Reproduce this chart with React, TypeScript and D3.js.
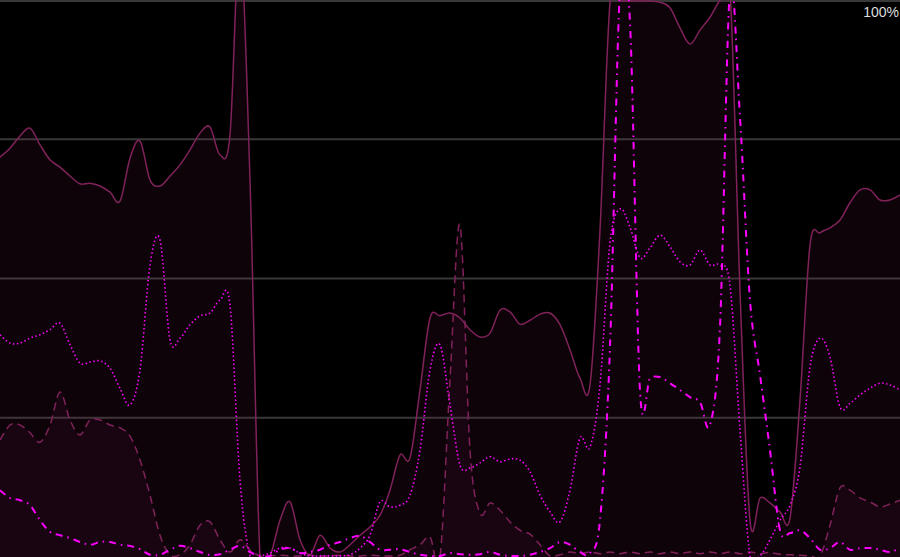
import React, { useEffect, useRef } from "react";
import * as d3 from "d3";

// one sample every 10px of the 900px wide plot, values in percent
const seriesA = [
  71.8, 73.4, 75.6, 77.0, 74.0, 71.3, 70.0, 68.4, 67.0, 67.1,
  66.6, 65.5, 63.9, 71.6, 74.7, 67.7, 66.6, 68.4, 70.4, 73.1,
  76.1, 77.2, 72.2, 75.8, 110.8, 67.7, 0, 0.2, 6.6, 9.9,
  3.1, 0.4, 3.9, 1.6, 0.9, 2.2, 3.9, 5.4, 7.5, 12.0,
  18.3, 17.8, 30.0, 42.9, 43.3, 43.8, 42.9, 40.8, 39.5, 40.2,
  44.3, 44.0, 41.8, 42.5, 43.6, 43.8, 41.7, 37.2, 32.1, 30.9,
  58.7, 99.5, 99.8, 99.8, 99.8, 99.8, 99.6, 98.6, 95.0, 92.1,
  94.6, 96.9, 100, 101.8, 47.9, 6.6, 10.6, 9.7, 8.1, 7.0,
  28.2, 56.0, 58.2, 59.1, 60.5, 63.6, 65.9, 65.9, 64.1, 64.1,
  65.0,
];

const seriesB = [
  21.0, 23.7, 23.7, 22.3, 20.6, 23.7, 29.6, 24.6, 21.9, 24.6,
  24.6, 23.7, 23.2, 21.7, 17.4, 11.1, 3.9, 0.4, 0.4, 2.2,
  5.7, 6.3, 3.1, 0.9, 3.1, 1.3, 0.2, 0.2, 0.3, 0.2,
  0.2, 0.3, 0.2, 0.2, 0.3, 0.2, 0.2, 0.3, 0.2, 0.2,
  0.3, 1.3, 2.2, 3.6, 0, 31.8, 59.6, 19.2, 7.9, 9.7,
  8.4, 6.3, 4.8, 4.1, 2.2, 0.2, 0.4, 0.9, 0.6, 0.9,
  0.6, 0.9, 0.6, 0.9, 0.6, 0.9, 0.6, 0.9, 0.6, 0.9,
  0.6, 0.9, 0.6, 0.9, 0.6, 0.9, 0.6, 0.8, 0.5, 0.4,
  0.3, 0.2, 0.2, 5.7, 12.4, 12.0, 10.6, 9.9, 9.0, 9.5,
  10.2,
];

const seriesC = [
  39.9, 38.4, 38.4, 39.3, 39.9, 40.8, 42.0, 38.1, 34.8, 35.0,
  35.2, 33.9, 30.3, 27.3, 33.6, 52.4, 56.9, 39.0, 39.3, 41.7,
  43.3, 43.8, 46.1, 45.2, 13.8, 0.2, 0.2, 0.7, 1.6, 1.6,
  0.7, 0.2, 0.2, 0.2, 0.2, 0.4, 1.6, 3.9, 9.9, 9.0,
  9.3, 11.1, 19.2, 33.6, 38.1, 27.3, 16.5, 16.0, 16.9, 18.0,
  17.1, 17.6, 17.4, 15.3, 11.1, 8.1, 6.3, 12.0, 21.4, 19.7,
  30.9, 56.4, 62.5, 59.2, 53.7, 55.5, 57.8, 55.7, 53.0, 52.4,
  55.1, 52.4, 52.4, 48.8, 22.8, 0.2, 0.2, 3.1, 6.6, 9.3,
  16.2, 34.1, 39.3, 35.9, 26.9, 27.6, 29.1, 30.3, 31.2, 30.9,
  30.0,
];

const seriesD = [
  12.0, 10.6, 10.2, 9.3, 6.6, 4.5, 3.9, 3.4, 2.7, 2.2,
  2.7, 2.7, 2.2, 2.0, 1.4, 0.4, 0.4, 1.3, 2.0, 1.6,
  0.9, 0.4, 0.5, 1.3, 2.0, 0.9, 0.2, 0.2, 1.3, 1.6,
  0.7, 0.9, 1.3, 2.2, 2.7, 3.4, 3.8, 2.7, 1.3, 1.3,
  1.4, 0.9, 0.4, 0.2, 0.2, 0.7, 0.5, 0.4, 0.5, 0.9,
  0.4, 0.2, 0.2, 0.4, 0.9, 1.6, 2.7, 2.2, 0.9, 0.7,
  6.6, 37.7, 102, 96, 29.8, 32.1, 32.3, 31.2, 30.0, 28.7,
  27.8, 23.7, 41.3, 102, 79.0, 46.1, 32.7, 19.2, 4.8, 4.3,
  4.8, 3.4, 1.3, 1.6, 2.7, 1.3, 1.6, 1.6, 1.3, 0.9,
  1.6,
];

const gridTicks = [25, 50, 75, 100];
const topLabel = "100%";

const WIDTH = 900;
const HEIGHT = 557;
const LINE = "#80225a";
const MAGENTA = "#ff00ff";

export default function App() {
  const ref = useRef<SVGSVGElement>(null);

  useEffect(() => {
    const svg = d3.select(ref.current);
    svg.selectAll("*").remove();

    const x = d3.scaleLinear().domain([0, seriesA.length - 1]).range([0, WIDTH]);
    const y = d3.scaleLinear().domain([0, 100]).range([HEIGHT, 0]);

    svg.append("rect").attr("width", WIDTH).attr("height", HEIGHT).attr("fill", "#000");

    // grid
    svg.selectAll("line.grid")
      .data(gridTicks)
      .enter()
      .append("line")
      .attr("class", "grid")
      .attr("x1", 0)
      .attr("x2", WIDTH)
      .attr("y1", (d) => Math.max(1, y(d)))
      .attr("y2", (d) => Math.max(1, y(d)))
      .attr("stroke", "#383838")
      .attr("stroke-width", 2);

    const curve = d3.curveCatmullRom.alpha(0);

    const area = d3.area<number>()
      .x((d, i) => x(i))
      .y0(y(0))
      .y1((d) => y(d))
      .curve(curve);

    const line = d3.line<number>()
      .x((d, i) => x(i))
      .y((d) => y(d))
      .curve(curve);

    // filled series
    [seriesA, seriesB].forEach((s) => {
      svg.append("path")
        .attr("d", area(s))
        .attr("fill", LINE)
        .attr("fill-opacity", 0.1);
    });

    const styles = [
      { data: seriesA, color: LINE, dash: null, w: 1.5 },
      { data: seriesB, color: LINE, dash: "8,5", w: 1.5 },
      { data: seriesC, color: MAGENTA, dash: "1.5,2.5", w: 1.6 },
      { data: seriesD, color: MAGENTA, dash: "7,5,1.5,5", w: 2 },
    ];

    styles.forEach((st) => {
      svg.append("path")
        .attr("d", line(st.data))
        .attr("fill", "none")
        .attr("stroke", st.color)
        .attr("stroke-width", st.w)
        .attr("stroke-dasharray", st.dash);
    });

    svg.append("text")
      .attr("x", WIDTH - 1)
      .attr("y", 17)
      .attr("text-anchor", "end")
      .attr("fill", "#dddddd")
      .style("font-family", "'Liberation Sans', Arial, sans-serif")
      .style("font-size", "14px")
      .text(topLabel);
  }, []);

  return (
    <svg
      ref={ref}
      width={WIDTH}
      height={HEIGHT}
      style={{ position: "absolute", left: 0, top: 0, display: "block" }}
    />
  );
}
